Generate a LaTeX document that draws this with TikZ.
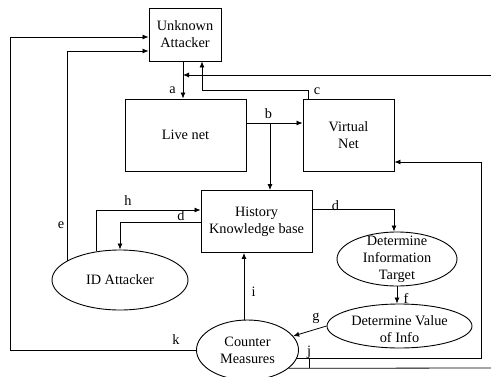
\documentclass[tikz,border=0pt]{standalone}
\usepackage{fontspec}
\setmainfont{Liberation Serif}
\usetikzlibrary{shapes.geometric,arrows.meta}
\begin{document}
\begin{tikzpicture}[x=1pt,y=-1pt,
  every node/.style={font=\fontsize{14.3}{17}\selectfont},
  box/.style={draw, line width=0.9pt, align=center, inner sep=0pt},
  oval/.style={draw, ellipse, line width=0.9pt, inner sep=0pt},
  arr/.style={-{Latex[length=6pt,width=5pt]}, line width=0.8pt},
  wire/.style={line width=0.8pt},
  lab/.style={inner sep=0pt}]
\useasboundingbox (0,0) rectangle (491,376);

% boxes
\node[box, minimum width=72pt, minimum height=53pt] (UA) at (185,34.5) {Unknown\\Attacker};
\node[box, minimum width=121pt, minimum height=72pt] (LN) at (185.5,135) {Live net};
\node[box, minimum width=91pt, minimum height=72pt] (VN) at (348.5,135) {Virtual\\Net};
\node[box, minimum width=111pt, minimum height=62pt] (HK) at (256.5,221.5) {History\\Knowledge base};

% ovals
\node[oval, minimum width=136pt, minimum height=60pt, label={center:ID Attacker}] (IDA) at (120,280) {};
\node[oval, minimum width=120pt, minimum height=54pt,
      label={[align=center]center:Determine\\Information\\Target}] (DIT) at (397,259) {};
\node[oval, minimum width=145pt, minimum height=44pt,
      label={[align=center,yshift=-3pt]center:Determine Value\\of Info}] (DVI) at (399.5,326) {};
\node[oval, minimum width=102pt, minimum height=60pt,
      label={[align=center]center:Counter\\Measures}] (CM) at (247.5,350) {};

% routing points
\coordinate (a1) at (183,75);
\coordinate (rin) at (491,75);
\coordinate (c1) at (308,90);
\coordinate (c2) at (202,90);
\coordinate (b1) at (270,123);
\coordinate (h1) at (96,210);
\coordinate (d1) at (121,222);
\coordinate (e1) at (67,51);
\coordinate (k1) at (10,37);
\coordinate (d2) at (394,209);
\coordinate (i1) at (244,0);
\coordinate (j1) at (481,162);
\coordinate (lo) at (491,368);
\coordinate (t1) at (309,359);
\coordinate (t2) at (309,368);

% connectors
\draw[arr] (UA.south -| a1) -- (LN.north -| a1);
\draw[arr] (rin) -- (a1);
\draw[arr] (VN.north -| c1) -- (c1) -- (c2) -- (c2 |- UA.south);
\draw[arr] (LN.east |- b1) -- (VN.west |- b1);
\draw[arr] (b1) -- (b1 |- HK.north);
\draw[arr] (IDA.130) |- (HK.west |- h1);
\draw[arr] (HK.west |- d1) -| (IDA.north);
\draw[arr] (IDA.160) |- (UA.west |- e1);
\draw[arr] (CM.west) -| (k1) -- (UA.west |- k1);
\draw[arr] (HK.east |- d2) -| (DIT.north -| d2);
\draw[arr] (DIT.south) -- (DIT.south |- DVI.north);
\draw[arr] (DVI.west) -- (CM.17);
\draw[arr] (CM.north -| i1) -- (i1 |- HK.south);
\draw[arr] (CM.-10) -| (j1) -- (VN.east |- j1);
\draw[wire] (CM.-24) -- (lo);
\draw[wire] (t1) -- (t2);

% connector labels
\node[lab] (la) at (172.5,90.5) {a};
\node[lab] (lb) at (268.5,113.5) {b};
\node[lab] (lc) at (317,91) {c};
\node[lab] (lh) at (128,201) {h};
\node[lab] (ld1) at (181,215.5) {d};
\node[lab] (le) at (61,225) {e};
\node[lab] (lk) at (176,339.5) {k};
\node[lab] (ld2) at (335.5,205.5) {d};
\node[lab] (lf) at (406,298) {f};
\node[lab] (lg) at (316,318) {g};
\node[lab] (li) at (253.5,292) {i};
\node[lab] (lj) at (309,352) {j};
\end{tikzpicture}
\end{document}
